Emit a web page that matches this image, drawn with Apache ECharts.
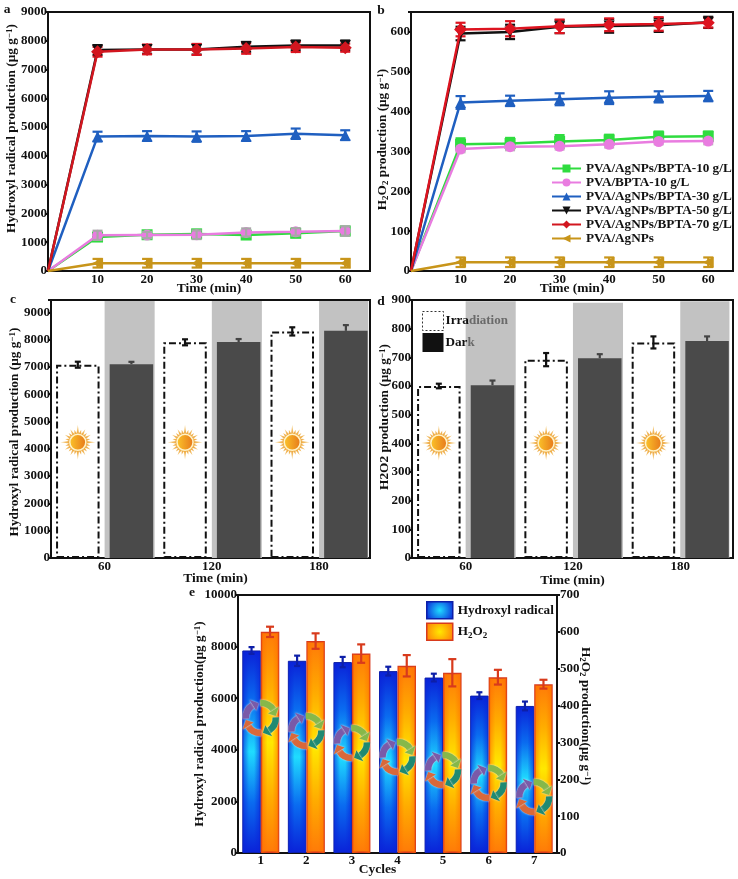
<!DOCTYPE html>
<html>
<head>
<meta charset="utf-8">
<style>
  html, body { margin: 0; padding: 0; background: #fff; }
  #main { width: 738px; height: 879px; }
</style>
</head>
<body>
<div id="main"></div>
<script src="https://cdn.jsdelivr.net/npm/echarts@6/dist/echarts.min.js"></script>
<script>
  // panel a + b: production vs time
  const times = [0, 10, 20, 30, 40, 50, 60]
  const aGreen = [0, 1180, 1260, 1290, 1250, 1310, 1390]
  const aPink = [0, 1240, 1250, 1260, 1340, 1360, 1390]
  const aBlue = [0, 4670, 4690, 4670, 4690, 4770, 4720]
  const aBlack = [0, 7680, 7700, 7700, 7790, 7840, 7840]
  const aRed = [0, 7620, 7700, 7700, 7730, 7780, 7760]
  const aGold = [0, 270, 270, 270, 270, 270, 270]
  const aGreenErr = [0, 130, 110, 140, 130, 130, 150]
  const aPinkErr = [0, 160, 110, 150, 140, 130, 160]
  const aBlueErr = [0, 170, 170, 180, 170, 180, 170]
  const aBlackErr = [0, 170, 150, 180, 170, 170, 170]
  const aRedErr = [0, 170, 170, 190, 180, 170, 140]
  const aGoldErr = [0, 150, 150, 150, 150, 150, 150]

  const bGreen = [0, 318, 320, 325, 329, 337, 338]
  const bPink = [0, 306, 312, 313, 318, 325, 326]
  const bBlue = [0, 423, 427, 431, 435, 437, 439]
  const bBlack = [0, 596, 600, 613, 615, 617, 624]
  const bRed = [0, 606, 608, 614, 618, 620, 623]
  const bGold = [0, 22, 22, 22, 22, 22, 22]
  const bGreenErr = [0, 15, 14, 16, 13, 13, 12]
  const bPinkErr = [0, 8, 9, 8, 8, 7, 8]
  const bBlueErr = [0, 16, 13, 15, 16, 14, 13]
  const bBlackErr = [0, 17, 18, 16, 17, 17, 14]
  const bRedErr = [0, 17, 19, 17, 16, 17, 12]
  const bGoldErr = [0, 12, 12, 12, 12, 12, 12]

  const names = ['PVA/AgNPs/BPTA-10 g/L', 'PVA/BPTA-10 g/L', 'PVA/AgNPs/BPTA-30 g/L', 'PVA/AgNPs/BPTA-50 g/L', 'PVA/AgNPs/BPTA-70 g/L', 'PVA/AgNPs']

  // panel c + d: irradiation / dark, x sits on a 30..210 scale with ticks at 60/120/180
  const irrX = [45, 105, 165]
  const darkX = [75, 135, 195]
  const bandFrom = [60, 120, 180]
  const bandTo = [88, 148, 207.5]
  const cIrr = [7080, 7900, 8300]
  const cDark = [7100, 7910, 8320]
  const cIrrErr = [110, 110, 150]
  const cDarkErr = [85, 110, 210]
  const cBandTop = [9410, 9410, 9410]
  const dIrr = [600, 692, 752]
  const dDark = [603, 697, 757]
  const dIrrErr = [8, 23, 21]
  const dDarkErr = [16, 14, 16]
  const dBandTop = [896, 890, 896]
  const cSunLevel = 4238
  const dSunLevel = 401

  // panel e: cycles
  const cycles = ['1', '2', '3', '4', '5', '6', '7']
  const eHydroxyl = [7850, 7450, 7400, 7050, 6800, 6100, 5700]
  const eHydroxylErr = [130, 200, 200, 170, 150, 130, 170]
  const eH2O2 = [600, 575, 541, 508, 489, 477, 458]
  const eH2O2Err = [14, 21, 25, 29, 37, 20, 12]
  const eRecycleLevel = [5233, 4729, 4264, 3721, 3217, 2713, 2171]

  const FONT = '"Liberation Serif", serif'
  const INK = '#111'
  const C_GREEN = '#2fdc3f'
  const C_PINK = '#e97ce0'
  const C_BLUE = '#1f5fc0'
  const C_BLACK = '#111111'
  const C_RED = '#dd1420'
  const C_GOLD = '#c8951a'

  const nameRich = {
    sup: { fontFamily: FONT, fontWeight: 'bold', fontSize: 9, lineHeight: 14, verticalAlign: 'top', color: INK },
    sub: { fontFamily: FONT, fontWeight: 'bold', fontSize: 9, lineHeight: 14, verticalAlign: 'bottom', color: INK }
  }

  function grid (left, top, width, height) {
    return { left, top, width, height, show: true, borderColor: INK, borderWidth: 2, backgroundColor: 'transparent' }
  }

  function xValueAxis (gridIndex, min, max, interval, step, gap, pad) {
    return {
      type: 'value',
      gridIndex,
      min,
      max,
      interval,
      splitLine: { show: false },
      axisLine: { onZero: false, lineStyle: { color: INK, width: 2 } },
      axisTick: { show: false },
      axisLabel: {
        margin: 2,
        color: INK,
        fontFamily: FONT,
        fontWeight: 'bold',
        fontSize: 13,
        formatter: v => (v > 0 && v % step === 0 && v <= max - 5 ? String(v) : '')
      },
      name: 'Time (min)',
      nameLocation: 'middle',
      nameGap: gap,
      nameMoveOverlap: false,
      nameTextStyle: { color: INK, fontFamily: FONT, fontWeight: 'bold', fontSize: 13.5, padding: pad }
    }
  }

  function yValueAxis (gridIndex, max, interval, name, gap, pad) {
    return {
      type: 'value',
      gridIndex,
      min: 0,
      max,
      interval,
      splitLine: { show: false },
      axisLine: { onZero: false, lineStyle: { color: INK, width: 2 } },
      axisTick: { show: true, length: 3, lineStyle: { color: INK, width: 2 } },
      axisLabel: {
        margin: 1,
        color: INK,
        fontFamily: FONT,
        fontWeight: 'bold',
        fontSize: 13,
        formatter: v => (v % interval === 0 ? String(v) : '')
      },
      name,
      nameLocation: 'middle',
      nameGap: gap,
      nameMoveOverlap: false,
      nameTextStyle: { color: INK, fontFamily: FONT, fontWeight: 'bold', fontSize: 13.3, padding: pad, rich: nameRich }
    }
  }

  // error bars with caps, drawn through the axes
  function errorSeries (axisX, axisY, xs, ys, errs, color, opts) {
    const o = Object.assign({ cap: 5, width: 2.2, dx: 0, upOnly: false, z: 4 }, opts)
    const data = []
    xs.forEach((x, i) => { if (errs[i] > 0) data.push([x, ys[i], errs[i]]) })
    return {
      type: 'custom',
      xAxisIndex: axisX,
      yAxisIndex: axisY,
      z: o.z,
      silent: true,
      clip: false,
      encode: { x: 0, y: 1 },
      data,
      renderItem (params, api) {
        const x = api.value(0)
        const y = api.value(1)
        const e = api.value(2)
        const hi = api.coord([x, y + e])
        const lo = api.coord([x, o.upOnly ? y : y - e])
        const cx = hi[0] + o.dx
        const style = { stroke: color, lineWidth: o.width, fill: null }
        const children = [
          { type: 'line', shape: { x1: cx, y1: hi[1], x2: cx, y2: lo[1] }, style },
          { type: 'line', shape: { x1: cx - o.cap, y1: hi[1], x2: cx + o.cap, y2: hi[1] }, style }
        ]
        if (!o.upOnly) {
          children.push({ type: 'line', shape: { x1: cx - o.cap, y1: lo[1], x2: cx + o.cap, y2: lo[1] }, style })
        }
        return { type: 'group', children }
      }
    }
  }

  function lineSeries (axis, name, ys, color, symbol, rotate, z, size) {
    return {
      type: 'line',
      name,
      xAxisIndex: axis,
      yAxisIndex: axis,
      z,
      symbol,
      symbolRotate: rotate,
      symbolSize: size || 11,
      clip: false,
      lineStyle: { color, width: 2.5 },
      itemStyle: { color },
      data: times.map((t, i) => (i === 0 ? { value: [t, ys[i]], symbol: 'none' } : [t, ys[i]]))
    }
  }

  function barSeries (axisX, axisY, name, xs, ys, itemStyle, extra) {
    return Object.assign({
      type: 'bar',
      name,
      xAxisIndex: axisX,
      yAxisIndex: axisY,
      barWidth: 43.5,
      barGap: '-100%',
      itemStyle,
      data: xs.map((x, i) => [x, ys[i]])
    }, extra)
  }

  function bandArea (tops) {
    return {
      silent: true,
      itemStyle: { color: '#c2c2c2' },
      data: bandFrom.map((f, i) => [{ xAxis: f, yAxis: tops[i] }, { xAxis: bandTo[i], yAxis: 0 }])
    }
  }

  // little sun drawn on the white bars
  function sunSeries (axis, level) {
    const pts = []
    for (let i = 0; i < 48; i++) {
      const a = i / 48 * Math.PI * 2
      const r = i % 2 === 1 ? 9 : (i % 12 === 0 ? 17.5 : (i % 4 === 0 ? 15 : 13))
      pts.push([Math.cos(a) * r, Math.sin(a) * r])
    }
    return {
      type: 'custom',
      xAxisIndex: axis,
      yAxisIndex: axis,
      z: 5,
      silent: true,
      encode: { x: 0, y: 1 },
      data: irrX.map(x => [x, level]),
      renderItem (params, api) {
        const c = api.coord([api.value(0), api.value(1)])
        return {
          type: 'group',
          x: c[0],
          y: c[1],
          children: [
            {
              type: 'polygon',
              shape: { points: pts },
              style: { fill: new echarts.graphic.RadialGradient(0.5, 0.5, 0.5, [{ offset: 0.35, color: '#eb9a24' }, { offset: 1, color: '#f8dca0' }]) }
            },
            {
              type: 'circle',
              shape: { cx: 0, cy: 0, r: 8 },
              style: {
                fill: new echarts.graphic.LinearGradient(0, 0, 1, 0, [{ offset: 0, color: '#fcc62a' }, { offset: 1, color: '#e6761a' }]),
                stroke: '#fff3c8',
                lineWidth: 1.5
              }
            }
          ]
        }
      }
    }
  }

  // recycle ring of four arrows on each cycle
  function recycleSeries () {
    const ringR = 15
    const arrows = [
      { from: 178, color: '#7a5aa8' },
      { from: 268, color: '#86b84a' },
      { from: 358, color: '#1f8a72' },
      { from: 88, color: '#d9683a' }
    ]
    const rad = d => d * Math.PI / 180
    return {
      type: 'custom',
      xAxisIndex: 4,
      yAxisIndex: 4,
      z: 6,
      silent: true,
      clip: false,
      encode: { x: 0, y: 1 },
      data: cycles.map((c, i) => [i, eRecycleLevel[i]]),
      renderItem (params, api) {
        const c = api.coord([api.value(0), api.value(1)])
        const children = []
        arrows.forEach(a => {
          const end = a.from + 60
          const tip = end + 24
          const shadow = { shadowBlur: 2, shadowColor: 'rgba(235,235,235,0.95)' }
          children.push({
            type: 'arc',
            shape: { cx: 0, cy: 0, r: ringR, startAngle: rad(a.from), endAngle: rad(end), clockwise: true },
            style: Object.assign({ stroke: a.color, lineWidth: 6.5, fill: null }, shadow)
          })
          children.push({
            type: 'polygon',
            shape: {
              points: [
                [Math.cos(rad(end)) * (ringR - 6.5), Math.sin(rad(end)) * (ringR - 6.5)],
                [Math.cos(rad(end)) * (ringR + 6.5), Math.sin(rad(end)) * (ringR + 6.5)],
                [Math.cos(rad(tip)) * ringR, Math.sin(rad(tip)) * ringR]
              ]
            },
            style: Object.assign({ fill: a.color }, shadow)
          })
        })
        return { type: 'group', x: c[0], y: c[1], children }
      }
    }
  }

  // bars in e glow in the middle: vertical gradient on the bar, edge shade on top of it
  function edgeShade (axisY, ys, dx, rgb) {
    return {
      type: 'custom',
      xAxisIndex: 4,
      yAxisIndex: axisY,
      z: 3,
      silent: true,
      encode: { x: 0, y: 1 },
      data: ys.map((v, i) => [i, v]),
      renderItem (params, api) {
        const top = api.coord([api.value(0), api.value(1)])
        const bottom = api.coord([api.value(0), 0])
        return {
          type: 'rect',
          shape: { x: top[0] + dx - 8.5, y: top[1] + 1, width: 17, height: bottom[1] - top[1] - 1 },
          style: {
            fill: new echarts.graphic.LinearGradient(0, 0, 1, 0, [
              { offset: 0, color: 'rgba(' + rgb + ',0.6)' },
              { offset: 0.35, color: 'rgba(' + rgb + ',0)' },
              { offset: 0.65, color: 'rgba(' + rgb + ',0)' },
              { offset: 1, color: 'rgba(' + rgb + ',0.6)' }
            ])
          }
        }
      }
    }
  }

  const blueFill = new echarts.graphic.LinearGradient(0, 0, 0, 1, [
    { offset: 0, color: '#0a22d8' },
    { offset: 0.25, color: '#0a6cf0' },
    { offset: 0.5, color: '#1fdcff' },
    { offset: 0.75, color: '#0a6cf0' },
    { offset: 1, color: '#0a22d8' }
  ])
  const orangeFill = new echarts.graphic.LinearGradient(0, 0, 0, 1, [
    { offset: 0, color: '#ff7a08' },
    { offset: 0.25, color: '#ffac00' },
    { offset: 0.5, color: '#ffe800' },
    { offset: 0.75, color: '#ffac00' },
    { offset: 1, color: '#ff7a08' }
  ])
  const blueKey = new echarts.graphic.RadialGradient(0.5, 0.5, 0.85, [{ offset: 0, color: '#1fdcff' }, { offset: 1, color: '#0a22d8' }])
  const orangeKey = new echarts.graphic.RadialGradient(0.5, 0.5, 0.85, [{ offset: 0, color: '#ffe800' }, { offset: 1, color: '#ff7a08' }])

  const legendText = { color: INK, fontFamily: FONT, fontWeight: 'bold', fontSize: 13.2 }
  const dashDot = [7, 3, 2, 3]

  const panelLetter = (text, x, y) => ({
    type: 'text',
    x,
    y,
    style: { text, fill: INK, font: 'bold 13.5px ' + FONT, textAlign: 'center', textVerticalAlign: 'middle' }
  })

  const rightAxis = yValueAxis(4, 700, 100, 'H{sub|2}O{sub|2} production(μg g{sup|−1})', 21, [0, 16, 0, 0])
  rightAxis.position = 'right'
  rightAxis.nameRotate = -90
  rightAxis.axisLabel.margin = 3

  const option = {
    animation: false,
    backgroundColor: '#fff',
    grid: [
      grid(48, 12, 322, 259),
      grid(411, 12, 322, 259),
      grid(51, 300, 319, 258),
      grid(412, 300, 321, 258),
      grid(238, 595, 319, 258)
    ],
    xAxis: [
      xValueAxis(0, 0, 65, 10, 10, 11, [0, 0, 0, 0]),
      xValueAxis(1, 0, 65, 10, 10, 11, [0, 0, 0, 0]),
      xValueAxis(2, 30, 208.5, 30, 60, 14, [0, 0, 0, 10]),
      xValueAxis(3, 30, 209.5, 30, 60, 16, [0, 0, 0, 0]),
      {
        type: 'category',
        gridIndex: 4,
        data: cycles,
        axisLine: { lineStyle: { color: INK, width: 2 } },
        axisTick: { show: false },
        axisLabel: { margin: 1, color: INK, fontFamily: FONT, fontWeight: 'bold', fontSize: 13 },
        name: 'Cycles',
        nameLocation: 'middle',
        nameGap: 10,
        nameMoveOverlap: false,
        nameTextStyle: { color: INK, fontFamily: FONT, fontWeight: 'bold', fontSize: 13.5, padding: [0, 40, 0, 0] }
      }
    ],
    yAxis: [
      yValueAxis(0, 9000, 1000, 'Hydroxyl radical production (μg g{sup|−1})', 29, [0, 0, 0, 26]),
      yValueAxis(1, 650, 100, 'H{sub|2}O{sub|2} production (μg g{sup|−1})', 21, [0, 0, 0, 4]),
      yValueAxis(2, 9450, 1000, 'Hydroxyl radical production (μg g{sup|−1})', 29, [0, 6, 0, 0]),
      yValueAxis(3, 900, 100, 'H2O2 production (μg g{sup|−1})', 20, [0, 0, 0, 24]),
      yValueAxis(4, 10000, 2000, 'Hydroxyl radical production(μg g{sup|−1})', 31, [0, 0, 0, 0]),
      rightAxis
    ],
    legend: [
      {
        left: 551,
        top: 162,
        padding: 0,
        orient: 'vertical',
        itemWidth: 29,
        itemHeight: 10,
        itemGap: 1,
        textStyle: Object.assign({}, legendText),
        data: names
      },
      {
        left: 422,
        top: 311,
        padding: 0,
        orient: 'vertical',
        icon: 'rect',
        itemWidth: 21,
        itemHeight: 19,
        itemGap: 2,
        selectedMode: false,
        textStyle: Object.assign({}, legendText, {
          rich: {
            on: Object.assign({}, legendText, { padding: [0, 0, 0, -3] }),
            off: Object.assign({}, legendText, { color: '#6a6a6a', fontSize: 13 })
          }
        }),
        formatter: n => (n === 'Irradiation' ? '{on|Irra}{off|diation}' : '{on|Dar}{off|k}'),
        data: [
          { name: 'Irradiation', itemStyle: { color: '#fff', borderColor: '#333', borderWidth: 1, borderType: [2, 2] } },
          { name: 'Dark', itemStyle: { color: '#111', borderWidth: 0 } }
        ]
      },
      {
        left: 426,
        top: 601,
        padding: 0,
        orient: 'vertical',
        icon: 'rect',
        itemWidth: 26,
        itemHeight: 17,
        itemGap: 3,
        selectedMode: false,
        textStyle: Object.assign({}, legendText, {
          rich: {
            n: Object.assign({}, legendText),
            s: { color: INK, fontFamily: FONT, fontWeight: 'bold', fontSize: 9, lineHeight: 16, verticalAlign: 'bottom' }
          }
        }),
        formatter: n => (n === 'H2O2' ? '{n|H}{s|2}{n|O}{s|2}' : n),
        data: [
          { name: 'Hydroxyl radical', itemStyle: { color: blueKey, borderColor: '#0d1fa8', borderWidth: 1.5 } },
          { name: 'H2O2', itemStyle: { color: orangeKey, borderColor: '#d83a1c', borderWidth: 1.5 } }
        ]
      }
    ],
    graphic: [
      panelLetter('a', 7, 10),
      panelLetter('b', 381, 11),
      panelLetter('c', 13, 300),
      panelLetter('d', 381, 302),
      panelLetter('e', 192, 593)
    ],
    series: [
      // a
      errorSeries(0, 0, times, aGreen, aGreenErr, '#a8a8a8'),
      lineSeries(0, names[0], aGreen, C_GREEN, 'rect', 0, 5),
      lineSeries(0, names[1], aPink, C_PINK, 'circle', 0, 6),
      errorSeries(0, 0, times, aPink, aPinkErr, '#a8a8a8', { z: 7 }),
      errorSeries(0, 0, times, aBlue, aBlueErr, C_BLUE),
      lineSeries(0, names[2], aBlue, C_BLUE, 'triangle', 0, 6),
      errorSeries(0, 0, times, aBlack, aBlackErr, C_BLACK),
      lineSeries(0, names[3], aBlack, C_BLACK, 'triangle', 180, 6),
      errorSeries(0, 0, times, aRed, aRedErr, C_RED),
      lineSeries(0, names[4], aRed, '#d2161f', 'diamond', 0, 7, 13),
      errorSeries(0, 0, times, aGold, aGoldErr, C_GOLD),
      lineSeries(0, names[5], aGold, C_GOLD, 'triangle', 90, 7),
      // b
      errorSeries(1, 1, times, bGreen, bGreenErr, C_GREEN),
      lineSeries(1, names[0], bGreen, C_GREEN, 'rect', 0, 5),
      errorSeries(1, 1, times, bPink, bPinkErr, '#b8b8b8'),
      lineSeries(1, names[1], bPink, C_PINK, 'circle', 0, 6),
      errorSeries(1, 1, times, bBlue, bBlueErr, C_BLUE),
      lineSeries(1, names[2], bBlue, C_BLUE, 'triangle', 0, 6),
      errorSeries(1, 1, times, bBlack, bBlackErr, C_BLACK),
      lineSeries(1, names[3], bBlack, C_BLACK, 'triangle', 180, 6),
      errorSeries(1, 1, times, bRed, bRedErr, C_RED),
      lineSeries(1, names[4], bRed, C_RED, 'diamond', 0, 7, 13),
      errorSeries(1, 1, times, bGold, bGoldErr, C_GOLD),
      lineSeries(1, names[5], bGold, C_GOLD, 'triangle', 90, 7),
      // c
      barSeries(2, 2, 'Irradiation', irrX, cIrr, { color: '#fff', borderColor: INK, borderWidth: 2, borderType: dashDot }),
      barSeries(2, 2, 'Dark', darkX, cDark, { color: '#4a4a4a' }, { markArea: bandArea(cBandTop) }),
      errorSeries(2, 2, irrX, cIrr, cIrrErr, INK, { cap: 3 }),
      errorSeries(2, 2, darkX, cDark, cDarkErr, '#444', { cap: 3, upOnly: true }),
      sunSeries(2, cSunLevel),
      // d
      barSeries(3, 3, 'Irradiation', irrX, dIrr, { color: '#fff', borderColor: INK, borderWidth: 2, borderType: dashDot }),
      barSeries(3, 3, 'Dark', darkX, dDark, { color: '#4a4a4a' }, { markArea: bandArea(dBandTop) }),
      errorSeries(3, 3, irrX, dIrr, dIrrErr, INK, { cap: 3 }),
      errorSeries(3, 3, darkX, dDark, dDarkErr, '#444', { cap: 3, upOnly: true }),
      sunSeries(3, dSunLevel),
      // e
      {
        type: 'bar',
        name: 'Hydroxyl radical',
        xAxisIndex: 4,
        yAxisIndex: 4,
        barWidth: 18.5,
        barGap: 0,
        itemStyle: { color: blueFill, borderColor: '#0d1fa8', borderWidth: 1 },
        data: eHydroxyl
      },
      {
        type: 'bar',
        name: 'H2O2',
        xAxisIndex: 4,
        yAxisIndex: 5,
        barWidth: 18.5,
        barGap: 0,
        itemStyle: { color: orangeFill, borderColor: '#d83a1c', borderWidth: 1.5 },
        data: eH2O2
      },
      edgeShade(4, eHydroxyl, -9.25, '10,34,216'),
      edgeShade(5, eH2O2, 9.25, '255,110,0'),
      errorSeries(4, 4, cycles.map((c, i) => i), eHydroxyl, eHydroxylErr, '#0d1fa8', { cap: 3, dx: -9.25 }),
      errorSeries(4, 5, cycles.map((c, i) => i), eH2O2, eH2O2Err, '#d83a1c', { cap: 4, dx: 9.25 }),
      recycleSeries()
    ]
  }

  const myChart = echarts.init(document.getElementById('main'), null, { renderer: 'canvas' })
  myChart.setOption(option)
</script>
</body>
</html>
